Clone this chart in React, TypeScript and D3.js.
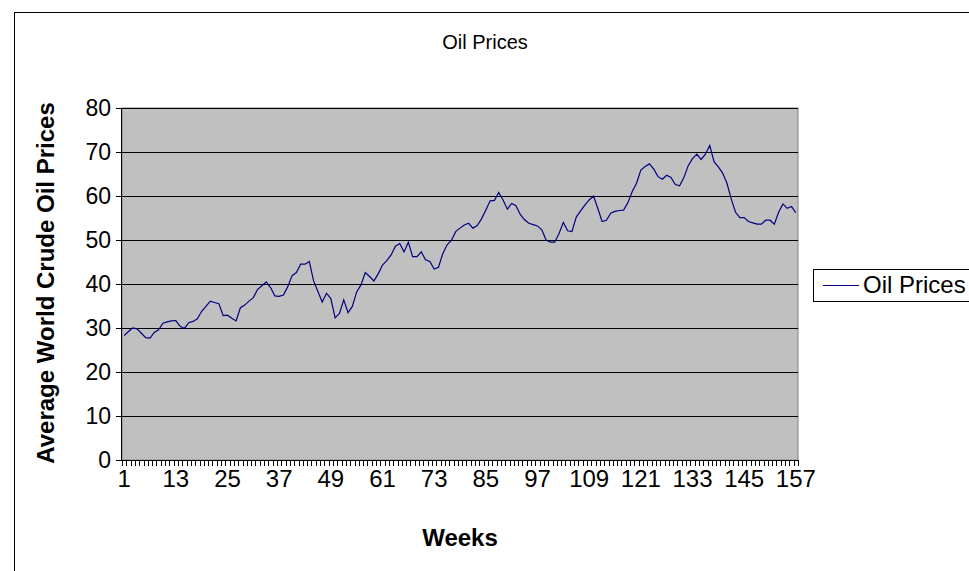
import { useMemo } from 'react';
import * as d3 from 'd3';

// weekly average world crude oil prices
const weeks = d3.range(1, 158);
const prices = [
  28.3, 29.2, 30.0, 29.8, 28.8, 27.8, 27.7, 29.0, 29.6, 31.1, 31.4, 31.6, 31.7,
  30.4, 29.9, 31.2, 31.5, 32.1, 33.8, 34.9, 36.1, 35.8, 35.5, 32.8, 32.9, 32.2,
  31.6, 34.6, 35.2, 36.1, 36.9, 38.8, 39.6, 40.5, 39.2, 37.3, 37.2, 37.5, 39.4,
  41.9, 42.6, 44.5, 44.5, 45.1, 40.7, 38.3, 35.9, 37.9, 36.7, 32.3, 33.3, 36.4,
  33.5, 34.9, 38.2, 39.8, 42.6, 41.7, 40.7, 42.3, 44.3, 45.3, 46.6, 48.6, 49.2,
  47.3, 49.5, 46.2, 46.2, 47.3, 45.5, 45.1, 43.4, 43.8, 46.9, 48.9, 49.9, 51.9,
  52.7, 53.4, 53.8, 52.7, 53.3, 54.8, 56.8, 58.9, 59.0, 60.8, 59.1, 57.0, 58.3,
  57.8, 55.8, 54.6, 53.8, 53.5, 53.2, 52.3, 50.0, 49.5, 49.5, 51.5, 54.0, 52.1,
  51.9, 55.2, 56.6, 57.9, 59.1, 60.0, 57.2, 54.2, 54.5, 56.1, 56.5, 56.7, 56.8,
  58.5, 61.0, 62.9, 65.9, 66.7, 67.3, 66.1, 64.4, 63.8, 64.7, 64.2, 62.6, 62.3,
  64.2, 66.9, 68.5, 69.5, 68.3, 69.5, 71.5, 67.8, 66.6, 65.2, 62.9, 59.3, 56.3,
  55.1, 55.1, 54.2, 53.9, 53.6, 53.6, 54.5, 54.5, 53.6, 56.3, 58.2, 57.2, 57.6,
  56.2,
];
const yTicks = [0, 10, 20, 30, 40, 50, 60, 70, 80];
const xLabelWeeks = [1, 13, 25, 37, 49, 61, 73, 85, 97, 109, 121, 133, 145, 157];

const W = 969;
const H = 571;
const LEFT = 122;
const RIGHT = 798;
const TOP = 108;
const BOTTOM = 460;
const FONT = '"Liberation Sans", Arial, sans-serif';

export default function App() {
  const x = useMemo(
    () => d3.scaleBand<number>().domain(weeks).range([LEFT, RIGHT]).padding(0),
    [],
  );
  const y = d3.scaleLinear().domain([0, 80]).range([BOTTOM, TOP]);

  const line = d3
    .line<number>()
    .x((_, i) => x(weeks[i])! + x.bandwidth() / 2)
    .y((d) => y(d));

  // category boundaries for the dense tick marks
  const boundaries = weeks.map((w) => x(w)!).concat([RIGHT]);

  return (
    <svg
      width={W}
      height={H}
      style={{ position: 'absolute', left: 0, top: 0, background: '#fff' }}
      fontFamily={FONT}
    >
      {/* chart area border */}
      <rect x={14.5} y={12.5} width={1000} height={700} fill="#fff" stroke="#000" />

      <text x={485} y={49} textAnchor="middle" fontSize={20} fill="#000">
        Oil Prices
      </text>

      {/* plot area */}
      <rect
        x={LEFT}
        y={TOP}
        width={RIGHT - LEFT}
        height={BOTTOM - TOP}
        fill="#c0c0c0"
        stroke="#808080"
      />
      {yTicks.slice(1).map((t) => (
        <line
          key={t}
          x1={LEFT}
          x2={RIGHT}
          y1={Math.round(y(t)) + 0.5}
          y2={Math.round(y(t)) + 0.5}
          stroke="#000"
        />
      ))}

      {/* y axis */}
      <line x1={LEFT - 0.5} x2={LEFT - 0.5} y1={TOP} y2={BOTTOM} stroke="#000" />
      {yTicks.map((t) => (
        <g key={t}>
          <line
            x1={LEFT - 6}
            x2={LEFT}
            y1={Math.round(y(t)) + 0.5}
            y2={Math.round(y(t)) + 0.5}
            stroke="#000"
          />
          <text
            x={LEFT - 11}
            y={y(t)}
            dy="0.35em"
            textAnchor="end"
            fontSize={23}
            fill="#000"
          >
            {t}
          </text>
        </g>
      ))}

      {/* x axis */}
      <line x1={LEFT} x2={RIGHT} y1={BOTTOM + 0.5} y2={BOTTOM + 0.5} stroke="#000" />
      {boundaries.map((b, i) => (
        <line
          key={i}
          x1={Math.round(b) + 0.5}
          x2={Math.round(b) + 0.5}
          y1={BOTTOM}
          y2={BOTTOM + 6}
          stroke="#000"
        />
      ))}
      {xLabelWeeks.map((w) => (
        <text
          key={w}
          x={x(w)! + x.bandwidth() / 2}
          y={BOTTOM + 19}
          dy="0.35em"
          textAnchor="middle"
          fontSize={24}
          fill="#000"
        >
          {w}
        </text>
      ))}

      <path d={line(prices)!} fill="none" stroke="#000080" strokeWidth={1.2} />

      {/* axis titles */}
      <text
        x={460}
        y={546}
        textAnchor="middle"
        fontSize={24}
        fontWeight="bold"
        fill="#000"
      >
        Weeks
      </text>
      <text
        transform={`translate(54, ${(TOP + BOTTOM) / 2 - 1}) rotate(-90)`}
        textAnchor="middle"
        fontSize={24}
        fontWeight="bold"
        fill="#000"
      >
        Average World Crude Oil Prices
      </text>

      {/* legend */}
      <rect x={813.5} y={269.5} width={200} height={32} fill="#fff" stroke="#000" />
      <line x1={823} x2={859} y1={285.5} y2={285.5} stroke="#000080" strokeWidth={1.2} />
      <text x={863} y={285} dy="0.35em" fontSize={24} fill="#000">
        Oil Prices
      </text>
    </svg>
  );
}
